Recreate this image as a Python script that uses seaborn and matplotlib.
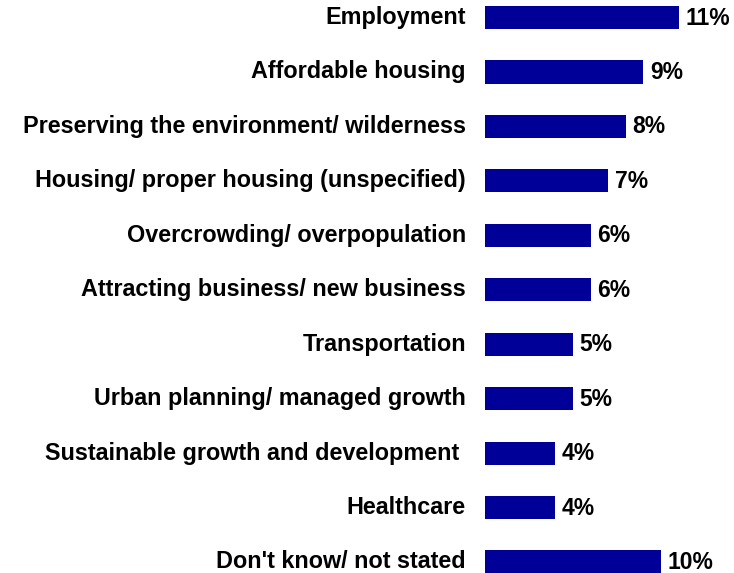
import pandas as pd
import matplotlib.pyplot as plt
import seaborn as sns

# ==============================
# DATA
# ==============================
categories = [
    "Employment",
    "Affordable housing",
    "Preserving the environment/ wilderness",
    "Housing/ proper housing (unspecified)",
    "Overcrowding/ overpopulation",
    "Attracting business/ new business",
    "Transportation",
    "Urban planning/ managed growth",
    "Sustainable growth and development ",
    "Healthcare",
    "Don't know/ not stated",
]
values = [11, 9, 8, 7, 6, 6, 5, 5, 4, 4, 10]

df = pd.DataFrame({"category": categories, "value": values})

# ==============================
# PLOT
# ==============================
sns.set_style("white")
plt.rcParams["font.family"] = ["Liberation Sans", "DejaVu Sans"]

fig = plt.figure(figsize=(7.34, 5.73), dpi=100)
ax = fig.add_axes([485 / 734, 0, 1 - 485 / 734, 1])

sns.barplot(
    data=df,
    x="value",
    y="category",
    orient="h",
    color="#000099",
    width=0.425,
    saturation=1,
    linewidth=0,
    ax=ax,
)

# value labels just right of each bar
for i, v in enumerate(values):
    ax.annotate(f"{v}%", xy=(v, i), xytext=(4.8, -0.4),
                textcoords="offset points", va="center", ha="left",
                fontsize=16.5, fontweight="bold", color="black")

px = 17.6  # pixels per percent
row = 54.45  # pixels per bar row
ax.set_xlim(0, 249 / px)
ax.set_ylim(10 + 11 / row, -17.5 / row)
ax.set_xlabel("")
ax.set_ylabel("")
ax.set_xticks([])
ax.tick_params(axis="y", length=0, pad=13.7)
for lbl in ax.get_yticklabels():
    lbl.set_fontsize(16.8)
    lbl.set_fontweight("bold")
    lbl.set_color("black")
    lbl.set_verticalalignment("center")
sns.despine(ax=ax, left=True, bottom=True)

fig.savefig("out.png", dpi=100)
